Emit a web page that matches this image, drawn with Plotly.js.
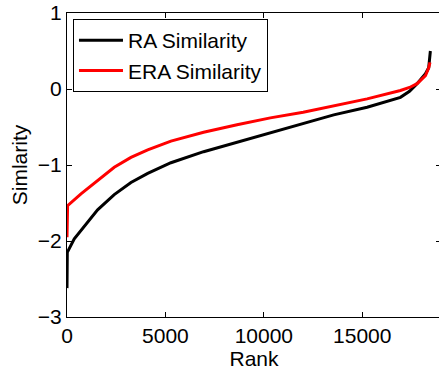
<!DOCTYPE html>
<html>
<head>
<meta charset="utf-8">
<script src="https://cdn.plot.ly/plotly-3.0.1.min.js"></script>
<style>
html,body{margin:0;padding:0;overflow:hidden;background:#fff;}
#chart{width:441px;height:370px;}
</style>
</head>
<body>
<div id="chart"></div>
<script>
// Rank positions and similarity values
const raRank = [0, 15, 370, 880, 1555, 2400, 3250, 4100, 5280, 6940, 8640, 10330, 12200, 13550, 15245, 16940, 17400, 17785, 18210, 18375, 18460];
const raSim  = [-2.62, -2.15, -1.97, -1.80, -1.59, -1.39, -1.23, -1.11, -0.97, -0.825, -0.70, -0.58, -0.44, -0.34, -0.24, -0.11, -0.03, 0.07, 0.20, 0.28, 0.50];

const eraRank = [0, 30, 710, 1555, 2400, 3250, 4100, 5280, 6940, 8640, 10330, 12000, 13550, 15245, 16940, 17400, 17785, 18210, 18375, 18440];
const eraSim  = [-1.95, -1.535, -1.38, -1.21, -1.03, -0.90, -0.80, -0.685, -0.57, -0.47, -0.38, -0.305, -0.22, -0.13, -0.02, 0.02, 0.07, 0.175, 0.28, 0.35];

const seriesNames = ['RA Similarity', 'ERA Similarity'];
const xTicks = [0, 5000, 10000, 15000];
const yTicks = [-3, -2, -1, 0, 1];
const yTickText = ['\u22123', '\u22122', '\u22121', '0', '1'];

const font = {family: 'Liberation Sans, Arial, Helvetica, sans-serif', size: 21, color: '#000'};

const traces = [
  {x: raRank, y: raSim, name: seriesNames[0], type: 'scatter', mode: 'lines',
   line: {color: '#000000', width: 3}},
  {x: eraRank, y: eraSim, name: seriesNames[1], type: 'scatter', mode: 'lines',
   line: {color: '#ff0000', width: 3}}
];

const layout = {
  width: 441, height: 370,
  margin: {l: 67, r: 0, t: 13, b: 53, pad: 0},
  paper_bgcolor: '#fff', plot_bgcolor: '#fff',
  font: font,
  showlegend: true,
  legend: {x: 0.016, y: 0.98, xanchor: 'left', yanchor: 'top',
    bgcolor: '#fff', bordercolor: '#000', borderwidth: 1,
    font: font, itemwidth: 44, tracegroupgap: 0},
  xaxis: {
    range: [0, 19000], tickvals: xTicks, ticktext: xTicks.map(String),
    ticks: 'inside', ticklen: 5, tickcolor: '#000', tickwidth: 1,
    showline: true, linecolor: '#000', linewidth: 1, mirror: 'ticks',
    showgrid: false, zeroline: false, tickfont: font,
    title: {text: 'Rank', font: font, standoff: 0}
  },
  yaxis: {
    range: [-3, 1], tickvals: yTicks, ticktext: yTickText,
    ticks: 'inside', ticklen: 5, tickcolor: '#000', tickwidth: 1,
    showline: true, linecolor: '#000', linewidth: 1, mirror: 'ticks',
    showgrid: false, zeroline: false, tickfont: font,
    title: {text: 'Simlarity', font: font, standoff: 4}
  }
};

Plotly.newPlot('chart', traces, layout, {displayModeBar: false, staticPlot: true});
</script>
</body>
</html>
